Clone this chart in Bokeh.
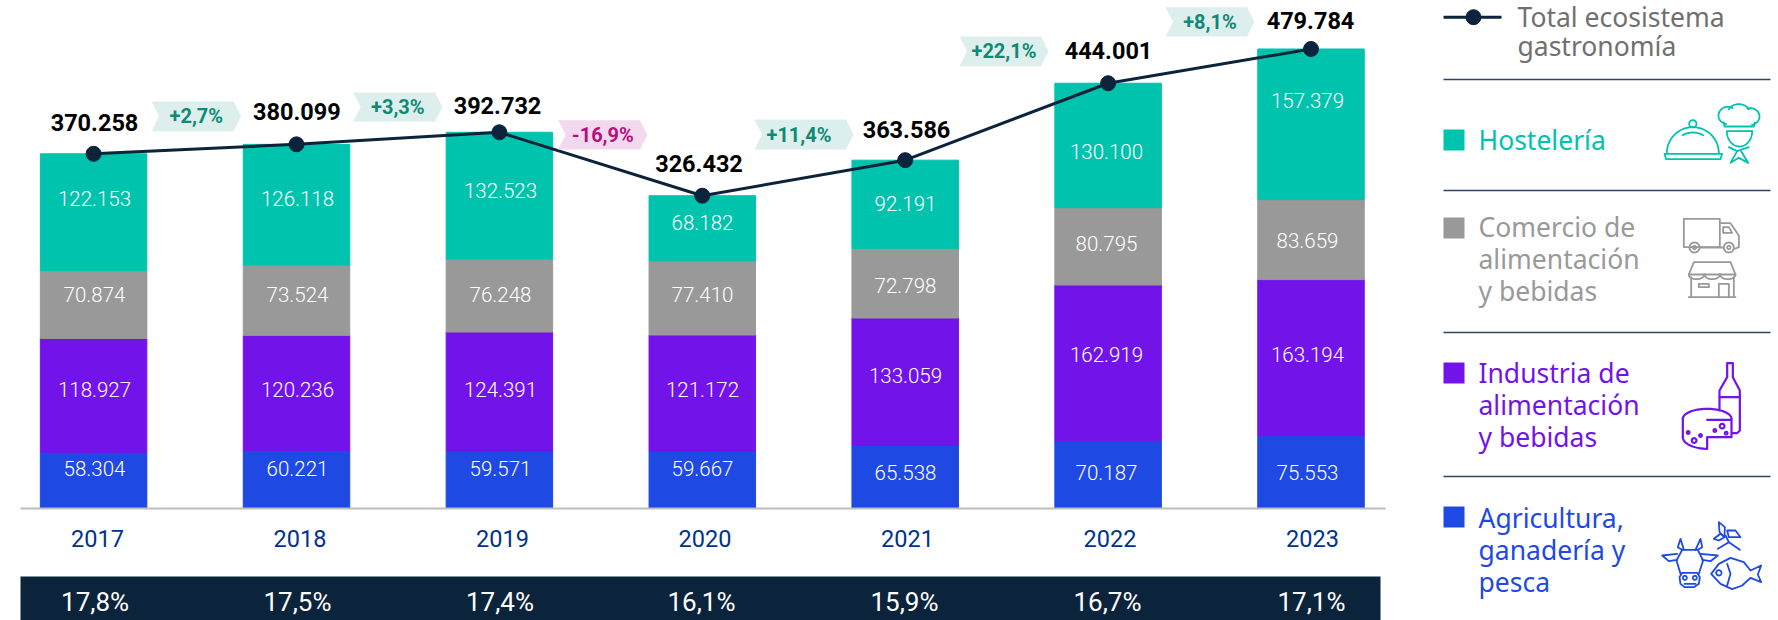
import numpy as np
from bokeh.plotting import figure
from bokeh.models import ColumnDataSource, FixedTicker, LinearAxis, Range1d
from bokeh.core.properties import value
from bokeh.embed import file_html
from bokeh.resources import INLINE

years = [2017, 2018, 2019, 2020, 2021, 2022, 2023]
agricultura = [58304, 60221, 59571, 59667, 65538, 70187, 75553]
industria = [118927, 120236, 124391, 121172, 133059, 162919, 163194]
comercio = [70874, 73524, 76248, 77410, 72798, 80795, 83659]
hosteleria = [122153, 126118, 132523, 68182, 92191, 130100, 157379]
totals = [370258, 380099, 392732, 326432, 363586, 444001, 479784]
changes = ["+2,7%", "+3,3%", "-16,9%", "+11,4%", "+22,1%", "+8,1%"]
shares = ["17,8%", "17,5%", "17,4%", "16,1%", "15,9%", "16,7%", "17,1%"]

TEAL, GRAY, PURPLE, BLUE = "#00c3ae", "#999999", "#7213ea", "#1e49e2"
NAVY = "#0c233c"
W, H = 1778, 620
X0, DX, Y0, KY = 93.1, 202.9, 507.5, 459.0 / 479784


def sx(px):
    return 2017 + (np.asarray(px, dtype=float) - X0) / DX


def sy(py):
    return (Y0 - np.asarray(py, dtype=float)) / KY


def es(v):
    return f"{v:,}".replace(",", ".")


p = figure(width=W, height=H, output_backend="svg", toolbar_location=None,
           x_range=Range1d(float(sx(0)), float(sx(W))),
           y_range=Range1d(float(sy(H)), float(sy(0))),
           min_border=0, outline_line_color=None,
           x_axis_type=None, y_axis_type=None)
p.grid.visible = False

# stacked bars
src = ColumnDataSource(dict(year=years, agricultura=agricultura, industria=industria,
                            comercio=comercio, hosteleria=hosteleria, total=totals))
p.vbar_stack(["agricultura", "industria", "comercio", "hosteleria"], x="year",
             width=106.5 / DX, color=[BLUE, PURPLE, GRAY, TEAL], source=src)

# year axis sitting on the baseline, spaced as the reference labels are
p.extra_x_ranges["labels"] = Range1d(2017 + (0 - 97.0) / 202.5, 2017 + (W - 97.0) / 202.5)
axis = LinearAxis(x_range_name="labels", fixed_location=0,
                  ticker=FixedTicker(ticks=years),
                  bounds=(2017 + (20 - 97.0) / 202.5, 2017 + (1385 - 97.0) / 202.5),
                  major_tick_line_color=None, minor_tick_line_color=None,
                  axis_line_color="#bdbdbd", axis_line_width=2,
                  major_label_standoff=16,
                  major_label_text_font="Roboto", major_label_text_font_size="23.5px",
                  major_label_text_color="#00338d")
p.add_layout(axis, "below")

# line of totals
p.line("year", "total", source=src, line_color=NAVY, line_width=3)
p.scatter("year", "total", source=src, size=15, marker="circle", fill_color=NAVY, line_color=NAVY)


def labels(xs_px, ys_px, txt, color, size, style="normal", font="Roboto", align="center"):
    p.text(x=sx(xs_px), y=sy(ys_px), text=txt, text_color=color, text_align=align,
           text_baseline="middle", text_font=value(font), text_font_size=f"{size}px",
           text_font_style=style)


# segment labels
LIGHT = "Roboto Light"
seg_x = [94, 297, 500, 702, 905, 1106, 1307]
labels(seg_x, [198, 198, 190, 222, 203, 151, 100], [es(v) for v in hosteleria], "white", 20.5, font=LIGHT)
labels(seg_x, [294, 294, 294, 294, 285, 243, 240], [es(v) for v in comercio], "white", 20.5, font=LIGHT)
labels(seg_x, [389, 389, 389, 389, 375, 354, 354], [es(v) for v in industria], "white", 20.5, font=LIGHT)
labels(seg_x, [468, 468, 468, 468, 472, 472, 472], [es(v) for v in agricultura], "white", 20.5, font=LIGHT)

# total labels
labels([94, 296.4, 497, 698.5, 906, 1108, 1310], [122, 111, 104.5, 163, 129, 50, 19.7],
       [es(v) for v in totals], "black", 23.5, "bold")

# change badges
boxes = [(151, 240.6, 101, 130.7), (352.7, 442, 92, 121), (557.6, 647, 119.7, 149),
         (754, 853, 119, 149), (959, 1048, 36, 65.7), (1165, 1254, 6.7, 36)]
text_dx = [0, 0, 0, -5, 0, 0]
for (a, b, c, d), t, dx in zip(boxes, changes, text_dx):
    neg = t.startswith("-")
    n = 7.5
    m = (c + d) / 2
    p.patch(sx([a, b - n, b, b - n, a, a + n]), sy([c, c, m, d, d, m]),
            fill_color="#f3d9ee" if neg else "#dcefec", line_color=None)
    labels([(a + b) / 2 + dx], [m], [t], "#b5107e" if neg else "#0e8a75", 20, "bold")

# share band
p.patch(sx([20, 1380, 1380, 20]), sy([576, 576, 620, 620]), fill_color=NAVY, line_color=None)
labels([94.6, 297, 499.5, 701, 904, 1107, 1311], [601] * 7, shares, "white", 26)

# legend
LF = "Noto Sans"
LS = 26.5
UP = 10
p.line(sx([1443, 1501]), sy([16.7, 16.7]), line_color=NAVY, line_width=3)
p.scatter(sx([1473]), sy([16.7]), size=15, marker="circle", fill_color=NAVY, line_color=NAVY)
labels([1517, 1517], [26 - UP, 55 - UP], ["Total ecosistema", "gastronomía"], "#707070", LS, font=LF, align="left")
for y in [79, 190, 332, 476]:
    p.line(sx([1443, 1770]), sy([y, y]), line_color="#2d4560", line_width=1.5)
legend_rows = [
    (TEAL, 129, ["Hostelería"], [149]),
    (GRAY, 217, ["Comercio de", "alimentación", "y bebidas"], [236.7, 268.7, 300.5]),
    (PURPLE, 362, ["Industria de", "alimentación", "y bebidas"], [382, 414, 446]),
    (BLUE, 506, ["Agricultura,", "ganadería y", "pesca"], [527, 559, 591]),
]
for col, top, lines, bases in legend_rows:
    p.patch(sx([1443, 1464, 1464, 1443]), sy([top, top, top + 21, top + 21]), fill_color=col, line_color=None)
    labels([1478] * len(lines), [b - UP for b in bases], lines, col, LS, font=LF, align="left")


# icons (decorative line drawings, coordinates in 3x crop pixels)
def arc(cx, cy, rx, ry=None, a0=0, a1=360, n=36):
    ry = rx if ry is None else ry
    t = np.radians(np.linspace(a0, a1, n))
    return list(zip(cx + rx * np.cos(t), cy - ry * np.sin(t)))


def icon(paths, color, oy, lw=1.8):
    xs, ys = [], []
    for path in paths:
        a = np.array(path, dtype=float)
        xs.append(sx(1420 + a[:, 0] / 3).tolist())
        ys.append(sy(oy + a[:, 1] / 3).tolist())
    p.multi_line(xs, ys, line_color=color, line_width=lw, line_join="round", line_cap="round")


icon([
    arc(817, 458, 78, 78, 0, 180), arc(817, 370, 11), arc(817, 458, 62, 62, 60, 120),
    [(732, 460), (905, 460), (900, 476), (737, 476), (732, 460)],
    arc(922, 345, 28, 26, 60, 260), arc(955, 335, 32, 24, 20, 160), arc(990, 348, 27, 25, -80, 110),
    [(910, 366), (912, 378), (1000, 378), (1003, 366)],
    [(922, 392), (995, 392)],
    arc(957, 392, 38, 46, 180, 360),
    [(925, 440), (950, 452), (985, 440)],
    [(950, 452), (930, 487), (955, 472), (983, 487), (962, 452)],
], TEAL, 0)
icon([
    [(898, 740), (790, 740), (790, 655), (898, 655), (898, 740)],
    [(898, 668), (930, 668), (955, 705), (955, 740), (942, 745)],
    [(908, 680), (925, 680), (935, 697), (908, 697), (908, 680)],
    arc(822, 741, 15), arc(822, 741, 5), arc(925, 741, 15), arc(925, 741, 5),
    [(838, 741), (908, 741)],
    [(820, 785), (930, 785), (945, 822), (805, 822), (820, 785)],
    arc(828, 822, 23, 14, 180, 360), arc(875, 822, 23, 14, 180, 360), arc(922, 822, 23, 14, 180, 360),
    [(812, 830), (812, 890)], [(940, 830), (940, 890)], [(805, 890), (945, 890)],
    [(895, 890), (895, 850), (925, 850), (925, 890)],
    [(835, 850), (865, 850), (865, 860), (835, 860), (835, 850)],
], GRAY, 0)
icon([
    [(897, 270), (897, 210), (920, 170), (920, 128), (937, 128), (937, 170), (958, 210), (958, 330), (950, 338), (935, 338)],
    [(897, 230), (958, 230)],
    arc(860, 295, 73, 30, 0, 180),
    [(787, 295), (787, 350)], arc(862, 350, 75, 35, 180, 268),
    [(860, 298), (933, 298), (933, 350), (860, 350), (860, 385)],
    arc(803, 336, 4), arc(840, 345, 4), arc(821, 360, 7), arc(883, 330, 4), arc(905, 317, 7), arc(917, 338, 4),
], PURPLE, 320, 2.2)
icon([
    [(770, 700), (725, 705), (745, 722), (770, 718)],
    [(840, 700), (892, 705), (870, 722), (845, 718)],
    [(785, 688), (772, 680), (780, 655), (790, 688)],
    [(825, 688), (840, 655), (845, 680), (832, 688)],
    [(785, 688), (832, 688), (848, 720), (835, 760)],
    [(785, 688), (768, 720), (780, 760)],
    [(785, 757), (830, 757), (838, 770), (835, 790), (820, 800), (792, 800), (780, 790), (777, 770), (785, 757)],
    arc(793, 772, 6), arc(823, 772, 6), [(792, 790), (825, 790)],
    [(872, 760), (895, 730), (930, 712), (970, 725), (990, 750), (1022, 735), (1012, 762), (1022, 785), (990, 772),
     (965, 795), (935, 806), (900, 790), (872, 760)],
    arc(895, 757, 8),
    [(920, 730), (930, 760), (920, 795)],
    [(892, 685), (925, 665), (958, 688)],
    [(925, 665), (915, 645)],
    [(895, 605), (913, 620), (912, 650), (897, 635), (895, 605)],
    [(920, 630), (945, 630), (960, 650), (925, 650), (920, 630)],
    [(880, 655), (900, 640), (912, 650), (895, 660), (880, 655)],
], BLUE, 320)

open("out.html", "w").write(file_html(p, INLINE))
